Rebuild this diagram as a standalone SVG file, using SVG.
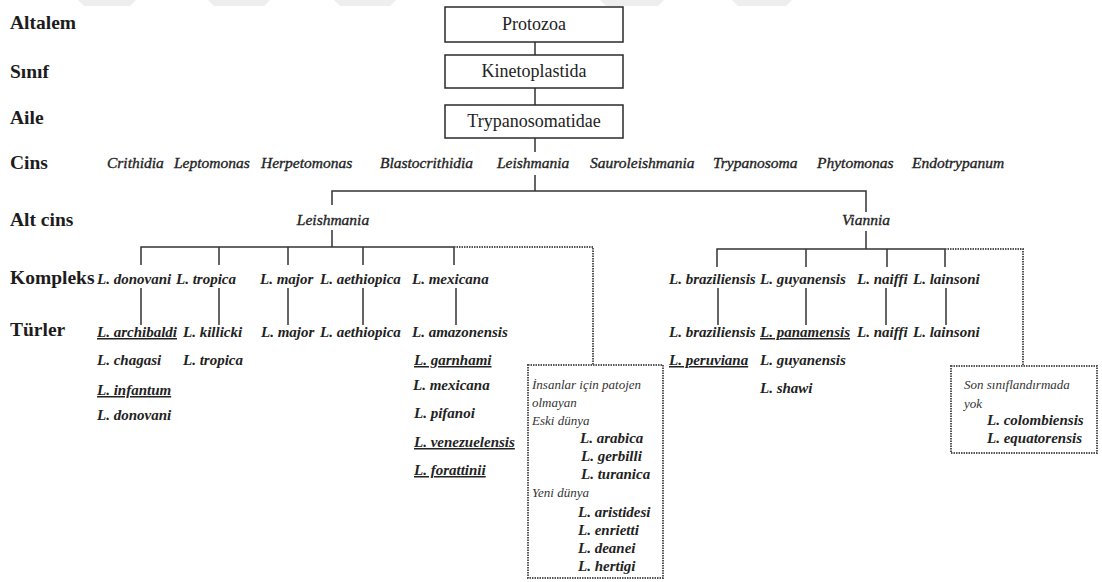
<svg xmlns="http://www.w3.org/2000/svg" width="1102" height="582" viewBox="0 0 1102 582" font-family="'Liberation Serif', 'DejaVu Serif', serif">
<style>
text{font-family:'Liberation Serif','DejaVu Serif',serif}
.lvl{font-weight:bold;font-size:19.5px;fill:#1c1c1c}
.box{fill:#fff;stroke:#2a2a2a;stroke-width:1.5}
.bt{font-size:18px;fill:#222;text-anchor:middle}
.gen{font-style:italic;font-size:15.5px;fill:#222;stroke:#222;stroke-width:0.35}
.sp{font-style:italic;font-weight:bold;font-size:15px;fill:#222}
.u{text-decoration:underline}
.note{font-style:italic;font-size:13px;fill:#333}
.ln{stroke:#333;stroke-width:1.5;fill:none}
.dot{stroke:#555;stroke-width:2;stroke-dasharray:1.5 1;fill:none}
.dbox{fill:#fff;stroke:#555;stroke-width:2;stroke-dasharray:1.5 1}
.wm{fill:#eeeeee}
</style>
<rect width="1102" height="582" fill="#fff"/>
<g id="watermark">
<polygon class="wm" points="78,0 136,0 130,6 84,6"/>
<polygon class="wm" points="208,0 270,0 264,6 214,6"/>
<polygon class="wm" points="334,0 396,0 390,6 340,6"/>
<polygon class="wm" points="600,0 664,0 658,6 606,6"/>
<polygon class="wm" points="732,0 792,0 786,6 738,6"/>
</g>
<g id="levels">
<text class="lvl" x="10" y="29">Altalem</text>
<text class="lvl" x="10" y="78">Sınıf</text>
<text class="lvl" x="10" y="124">Aile</text>
<text class="lvl" x="10" y="169">Cins</text>
<text class="lvl" x="10" y="226">Alt cins</text>
<text class="lvl" x="10" y="284">Kompleks</text>
<text class="lvl" x="10" y="336">Türler</text>
</g>
<g id="connectors">
<path class="ln" d="M535,42V55M535,88V105M535,138V152"/>
<path class="ln" d="M535,175V191M332,205V191H866V212"/>
<path class="ln" d="M332,230V247M141,265V247H454V265M219,247V265M288,247V265M363,247V265"/>
<path class="ln" d="M141,288V325M219,288V325M288,288V325M363,288V325M456,288V325"/>
<path class="dot" d="M454,247H593V365"/>
<path class="ln" d="M866,231V249M717,267V249H945V267M806,249V267M887,249V267"/>
<path class="ln" d="M718,288V325M806,288V325M886,288V325M946,288V325"/>
<path class="dot" d="M945,249H1023V366"/>
</g>
<g id="protozoa"><rect class="box" x="445" y="7" width="178" height="35"/><text class="bt" x="534" y="30">Protozoa</text></g>
<g id="kinetoplastida"><rect class="box" x="445" y="55" width="178" height="33"/><text class="bt" x="534" y="77">Kinetoplastida</text></g>
<g id="trypanosomatidae"><rect class="box" x="445" y="105" width="178" height="33"/><text class="bt" x="534" y="127">Trypanosomatidae</text></g>
<g id="genera">
<text class="gen" x="107" y="168">Crithidia</text>
<text class="gen" x="174" y="168">Leptomonas</text>
<text class="gen" x="261" y="168">Herpetomonas</text>
<text class="gen" x="380" y="168">Blastocrithidia</text>
<text class="gen" x="497" y="168">Leishmania</text>
<text class="gen" x="590" y="168">Sauroleishmania</text>
<text class="gen" x="713" y="168">Trypanosoma</text>
<text class="gen" x="817" y="168">Phytomonas</text>
<text class="gen" x="912" y="168">Endotrypanum</text>
</g>
<g id="subgenus-leishmania"><text class="gen" x="333" y="225" text-anchor="middle">Leishmania</text></g>
<g id="subgenus-viannia"><text class="gen" x="866" y="225" text-anchor="middle">Viannia</text></g>
<g id="complex-donovani">
<text class="sp" x="97" y="284">L. donovani</text>
<text class="sp u" x="97" y="337">L. archibaldi</text>
<text class="sp" x="97" y="365">L. chagasi</text>
<text class="sp u" x="97" y="395">L. infantum</text>
<text class="sp" x="97" y="420">L. donovani</text>
</g>
<g id="complex-tropica">
<text class="sp" x="176" y="284">L. tropica</text>
<text class="sp" x="183" y="337">L. killicki</text>
<text class="sp" x="183" y="365">L. tropica</text>
</g>
<g id="complex-major">
<text class="sp" x="260" y="284">L. major</text>
<text class="sp" x="261" y="337">L. major</text>
</g>
<g id="complex-aethiopica">
<text class="sp" x="320" y="284">L. aethiopica</text>
<text class="sp" x="320" y="337">L. aethiopica</text>
</g>
<g id="complex-mexicana">
<text class="sp" x="412" y="284">L. mexicana</text>
<text class="sp" x="412" y="337">L. amazonensis</text>
<text class="sp u" x="414" y="365">L. garnhami</text>
<text class="sp" x="413" y="390">L. mexicana</text>
<text class="sp" x="414" y="418">L. pifanoi</text>
<text class="sp u" x="414" y="447">L. venezuelensis</text>
<text class="sp u" x="414" y="475">L. forattinii</text>
</g>
<g id="nonpathogenic">
<rect class="dbox" x="528" y="365" width="135" height="213"/>
<text class="note" x="532" y="389">İnsanlar için patojen</text>
<text class="note" x="532" y="407">olmayan</text>
<text class="note" x="532" y="425">Eski dünya</text>
<text class="sp" x="580" y="443">L. arabica</text>
<text class="sp" x="581" y="461">L. gerbilli</text>
<text class="sp" x="581" y="479">L. turanica</text>
<text class="note" x="532" y="497">Yeni dünya</text>
<text class="sp" x="578" y="517">L. aristidesi</text>
<text class="sp" x="578" y="535">L. enrietti</text>
<text class="sp" x="578" y="553">L. deanei</text>
<text class="sp" x="578" y="571">L. hertigi</text>
</g>
<g id="complex-braziliensis">
<text class="sp" x="669" y="284">L. braziliensis</text>
<text class="sp" x="669" y="337">L. braziliensis</text>
<text class="sp u" x="669" y="365">L. peruviana</text>
</g>
<g id="complex-guyanensis">
<text class="sp" x="760" y="284">L. guyanensis</text>
<text class="sp u" x="760" y="337">L. panamensis</text>
<text class="sp" x="760" y="365">L. guyanensis</text>
<text class="sp" x="760" y="393">L. shawi</text>
</g>
<g id="complex-naiffi">
<text class="sp" x="857" y="284">L. naiffi</text>
<text class="sp" x="857" y="337">L. naiffi</text>
</g>
<g id="complex-lainsoni">
<text class="sp" x="913" y="284">L. lainsoni</text>
<text class="sp" x="913" y="337">L. lainsoni</text>
</g>
<g id="unclassified">
<rect class="dbox" x="951" y="366" width="146" height="87"/>
<text class="note" x="964" y="389">Son sınıflandırmada</text>
<text class="note" x="964" y="408">yok</text>
<text class="sp" x="987" y="425">L. colombiensis</text>
<text class="sp" x="987" y="443">L. equatorensis</text>
</g>
</svg>
